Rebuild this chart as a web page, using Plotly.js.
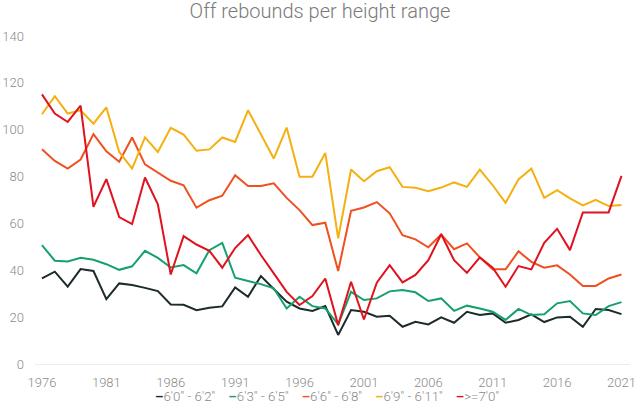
<!DOCTYPE html>
<html>
<head>
<meta charset="utf-8">
<script src="https://cdn.plot.ly/plotly-3.0.1.min.js"></script>
<style>html,body{margin:0;padding:0;background:#fff;}#chart{width:640px;height:410px;}</style>
</head>
<body>
<div id="chart"></div>
<script>
var years = [];
for (var y = 1976; y <= 2021; y++) years.push(y);

var seriesNames = ["6'0'' - 6'2''", "6'3'' - 6'5''", "6'6'' - 6'8''", "6'9'' - 6'11''", ">=7'0''"];
var seriesColors = ["#1c2b2c", "#16a06c", "#f0501f", "#f4b010", "#e0121e"];

var h60_62 = [36.5, 39.4, 33.0, 40.5, 39.7, 27.7, 34.4, 33.7, 32.5, 31.1,
              25.4, 25.3, 23.0, 24.0, 24.6, 32.7, 28.7, 37.5, 32.0, 26.6,
              23.7, 22.6, 24.7, 12.4, 23.0, 22.3, 20.2, 20.6, 15.9, 18.0,
              16.9, 19.9, 17.6, 22.3, 20.9, 21.6, 17.6, 18.8, 21.2, 17.9,
              19.9, 20.2, 15.9, 23.5, 23.0, 21.3];
var h63_65 = [50.7, 44.1, 43.8, 45.3, 44.5, 42.6, 40.2, 41.7, 48.3, 45.3,
              41.2, 42.2, 38.7, 48.6, 51.7, 36.8, 35.4, 34.1, 32.3, 23.7,
              28.7, 24.7, 23.7, 16.9, 30.8, 27.3, 28.0, 31.0, 31.6, 30.6,
              26.9, 28.0, 22.7, 24.9, 23.7, 22.3, 18.8, 23.5, 20.9, 21.2,
              25.9, 26.9, 21.6, 20.9, 24.7, 26.4];
var h66_68 = [91.7, 86.7, 83.4, 87.3, 98.1, 90.8, 86.3, 96.7, 85.2, 81.6,
              78.2, 76.3, 66.7, 69.9, 71.8, 80.6, 76.0, 76.0, 77.1, 70.9,
              65.7, 59.3, 60.3, 39.7, 65.4, 66.8, 69.1, 64.3, 55.0, 53.2,
              49.8, 55.3, 49.0, 51.5, 45.5, 40.4, 40.4, 48.1, 43.6, 41.1,
              42.1, 38.2, 33.3, 33.3, 36.5, 38.2];
var h69_611 = [106.6, 114.3, 106.9, 108.3, 102.6, 109.5, 90.5, 83.4, 96.7, 90.5,
               100.8, 97.9, 91.0, 91.6, 96.7, 94.8, 108.3, 97.7, 87.7, 100.9,
               79.9, 79.9, 90.1, 53.6, 83.0, 78.0, 82.3, 84.0, 75.6, 75.2,
               73.8, 75.3, 77.5, 75.6, 83.0, 76.3, 68.8, 78.8, 83.4, 70.9,
               74.2, 70.7, 67.7, 70.1, 67.4, 67.9];
var h70up = [115.1, 106.9, 103.3, 110.3, 67.1, 78.9, 62.7, 59.7, 79.6, 68.2,
             38.2, 54.6, 51.0, 48.3, 41.1, 49.5, 55.0, 46.5, 38.7, 30.8,
             25.2, 29.0, 36.5, 16.6, 35.1, 19.0, 34.7, 42.2, 34.8, 38.0,
             44.3, 55.4, 44.3, 38.9, 45.5, 41.1, 33.0, 41.8, 40.4, 51.7,
             57.7, 48.6, 64.7, 64.7, 64.7, 80.3];

var xTicks = [1976, 1981, 1986, 1991, 1996, 2001, 2006, 2011, 2016, 2021];
var yTicks = [0, 20, 40, 60, 80, 100, 120, 140];

var allValues = [h60_62, h63_65, h66_68, h69_611, h70up];

var traces = allValues.map(function (vals, i) {
  return {
    x: years, y: vals, type: 'scatter', mode: 'lines',
    name: seriesNames[i],
    line: {color: seriesColors[i], width: 2},
    showlegend: false
  };
});

var legendText = seriesNames.map(function (n, i) {
  return '<span style="color:' + seriesColors[i] + '"><b>\u2013</b></span>' + n;
}).join('\u00a0\u00a0\u00a0\u00a0');

var layout = {
  width: 640, height: 410,
  margin: {l: 35, r: 10, t: 36, b: 46},
  paper_bgcolor: '#ffffff', plot_bgcolor: '#ffffff',
  font: {family: 'Roboto, sans-serif', color: '#8a8a8a', size: 13},
  title: {
    text: 'Off rebounds per height range',
    font: {family: 'Roboto, sans-serif', size: 20, color: '#7a7a7a', weight: 300},
    x: 0.5, xanchor: 'center', y: 0.99, yanchor: 'top'
  },
  xaxis: {
    range: [1975.46, 2021.66],
    tickvals: xTicks, ticktext: xTicks.map(String),
    showgrid: false, zeroline: false, showline: true,
    linecolor: '#ececec', linewidth: 1,
    ticks: '', ticklabelstandoff: 6,
    tickfont: {size: 13, color: '#8a8a8a', weight: 300}
  },
  yaxis: {
    range: [0, 140],
    tickvals: yTicks, ticktext: yTicks.map(String),
    showgrid: false, zeroline: false, showline: false,
    ticks: '', ticklabelstandoff: 10,
    tickfont: {size: 13, color: '#8a8a8a', weight: 300}
  },
  annotations: [{
    text: legendText, showarrow: false,
    xref: 'paper', yref: 'paper',
    x: 0.49, y: -0.098, xanchor: 'center', yanchor: 'middle',
    font: {size: 13.3, color: '#8a8a8a', family: 'Roboto, sans-serif', weight: 300}
  }]
};

Plotly.newPlot('chart', traces, layout, {displayModeBar: false, staticPlot: true});
</script>
</body>
</html>
